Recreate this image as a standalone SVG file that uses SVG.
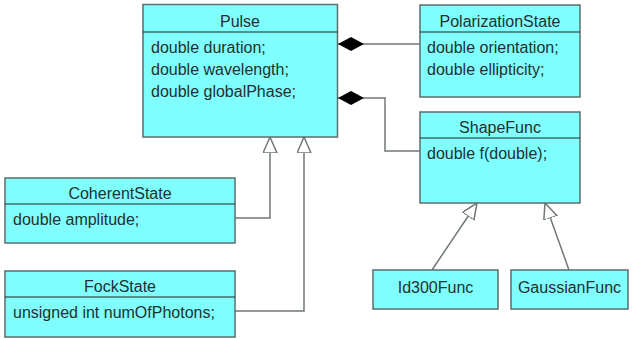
<svg xmlns="http://www.w3.org/2000/svg" width="632" height="339" viewBox="0 0 632 339">
<defs>
<style>
.box{fill:#80ffff;stroke:#5f6b6b;stroke-width:1.5}
.div{stroke:#1a2424;stroke-width:1.2}
.t{font-family:"Liberation Sans",Arial,sans-serif;font-size:16px;fill:#1f3030}
.c{text-anchor:middle}
.ln{fill:none;stroke:#707878;stroke-width:1.5}
</style>
<marker id="tri" markerUnits="userSpaceOnUse" markerWidth="18" markerHeight="16" refX="16" refY="7" orient="auto" viewBox="0 0 18 16">
<path d="M16,7 L0,0 L0,14 Z" fill="#fff" stroke="#707878" stroke-width="1.5"/>
</marker>
<marker id="dia" markerUnits="userSpaceOnUse" markerWidth="28" markerHeight="16" refX="27" refY="7" orient="auto" viewBox="0 0 28 16">
<path d="M1,7 L14,0 L27,7 L14,14 Z" fill="#000"/>
</marker>
</defs>
<g id="connectors">
<path class="ln" d="M420,44 L338,44" marker-end="url(#dia)"/>
<path class="ln" d="M420,151 L385,151 L385,98 L338,98" marker-end="url(#dia)"/>
<path class="ln" d="M235,218 L270,218 L270,137" marker-end="url(#tri)"/>
<path class="ln" d="M235,311 L304,311 L304,137" marker-end="url(#tri)"/>
<path class="ln" d="M432,270 L477,203" marker-end="url(#tri)"/>
<path class="ln" d="M569,270 L545,203" marker-end="url(#tri)"/>
</g>
<g id="Pulse">
<rect class="box" x="143" y="4.5" width="194.5" height="132.5"/>
<line class="div" x1="143" y1="32" x2="337.5" y2="32"/>
<text class="t c" x="240" y="27">Pulse</text>
<text class="t" x="151" y="53">double duration;</text>
<text class="t" x="151" y="75">double wavelength;</text>
<text class="t" x="151" y="97">double globalPhase;</text>
</g>
<g id="PolarizationState">
<rect class="box" x="420" y="5" width="160" height="92"/>
<line class="div" x1="420" y1="32" x2="580" y2="32"/>
<text class="t c" x="500" y="27">PolarizationState</text>
<text class="t" x="427" y="53">double orientation;</text>
<text class="t" x="427" y="75">double ellipticity;</text>
</g>
<g id="ShapeFunc">
<rect class="box" x="420" y="112" width="160" height="91"/>
<line class="div" x1="420" y1="138" x2="580" y2="138"/>
<text class="t c" x="500" y="133">ShapeFunc</text>
<text class="t" x="427" y="159">double f(double);</text>
</g>
<g id="CoherentState">
<rect class="box" x="5" y="178" width="230" height="65"/>
<line class="div" x1="5" y1="204" x2="235" y2="204"/>
<text class="t c" x="120" y="199">CoherentState</text>
<text class="t" x="13" y="225">double amplitude;</text>
</g>
<g id="FockState">
<rect class="box" x="5" y="271" width="230" height="66"/>
<line class="div" x1="5" y1="297" x2="235" y2="297"/>
<text class="t c" x="120" y="292">FockState</text>
<text class="t" x="13" y="318">unsigned int numOfPhotons;</text>
</g>
<g id="Id300Func">
<rect class="box" x="373" y="270" width="125" height="39"/>
<text class="t c" x="435.5" y="293">Id300Func</text>
</g>
<g id="GaussianFunc">
<rect class="box" x="511" y="270" width="117" height="39"/>
<text class="t c" x="569.5" y="293">GaussianFunc</text>
</g>
</svg>
